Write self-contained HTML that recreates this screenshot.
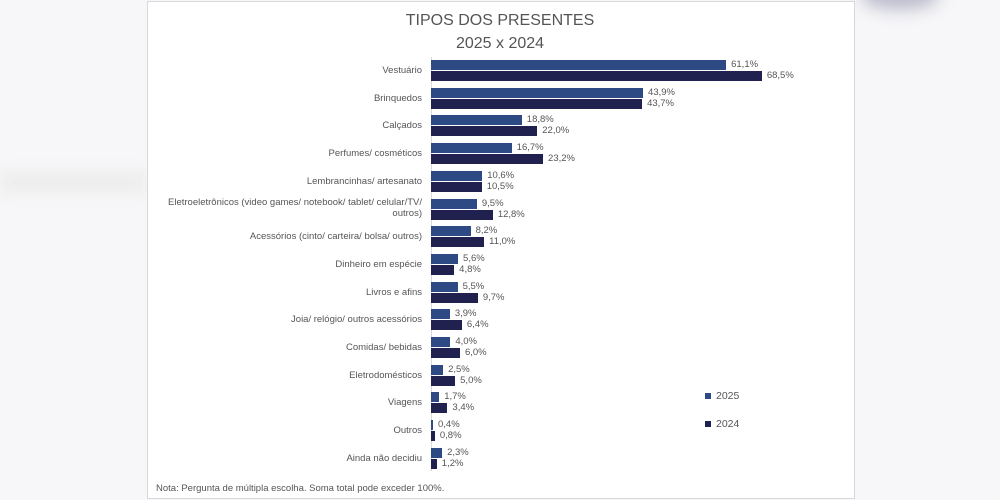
<!DOCTYPE html>
<html><head><meta charset="utf-8"><style>
body{margin:0;width:1000px;height:500px;background:#f7f7f9;position:relative;overflow:hidden;font-family:"Liberation Sans",sans-serif;}
#p{position:absolute;left:147px;top:1px;width:706px;height:496px;background:#fff;border:1px solid #d8d8dc;}
.t{position:absolute;width:1000px;left:0;text-align:center;color:#555;font-size:16px;}
.b{position:absolute;height:10px;}
.c{background:#2e4a85;}.d{background:#20214f;}
.v{position:absolute;font-size:9.5px;color:#555;line-height:10px;}
.l{position:absolute;right:578px;font-size:9.5px;color:#555;text-align:right;line-height:11px;}
</style></head><body>
<div style="position:absolute;left:0;top:170px;width:147px;height:25px;background:#eee;filter:blur(6px)"></div>
<div style="position:absolute;left:860px;top:-20px;width:80px;height:30px;background:#bcbccc;border-radius:50%;filter:blur(8px)"></div>
<div id="p"></div>
<div class="t" style="top:12px">TIPOS DOS PRESENTES</div>
<div class="t" style="top:35px">2025 x 2024</div>
<div style="position:absolute;left:431px;top:57px;width:1px;height:414px;background:#d9d9d9"></div>
<div id="bars"></div>
<div class="b c" style="left:705px;top:393px;width:6px;height:6px"></div><div class="v" style="left:716px;top:391px;font-size:10.5px">2025</div>
<div class="b d" style="left:705px;top:421px;width:6px;height:6px"></div><div class="v" style="left:716px;top:419px;font-size:10.5px">2024</div>
<div class="v" style="left:156px;top:484px">Nota: Pergunta de múltipla escolha. Soma total pode exceder 100%.</div>
<script>
var d=[["Vestuário",61.1,68.5],["Brinquedos",43.9,43.7],["Calçados",18.8,22.0],["Perfumes/ cosméticos",16.7,23.2],["Lembrancinhas/ artesanato",10.6,10.5],["Eletroeletrônicos (video games/ notebook/ tablet/ celular/TV/<br>outros)",9.5,12.8],["Acessórios (cinto/ carteira/ bolsa/ outros)",8.2,11.0],["Dinheiro em espécie",5.6,4.8],["Livros e afins",5.5,9.7],["Joia/ relógio/ outros acessórios",3.9,6.4],["Comidas/ bebidas",4.0,6.0],["Eletrodomésticos",2.5,5.0],["Viagens",1.7,3.4],["Outros",0.4,0.8],["Ainda não decidiu",2.3,1.2]];
var h="";
d.forEach(function(r,i){var y=60+i*27.7;
[r[1],r[2]].forEach(function(v,j){var w=Math.max(2,v*4.83);var yy=y+j*11;
h+='<div class="b '+(j?'d':'c')+'" style="left:431px;top:'+yy+'px;width:'+w+'px"></div>';
h+='<div class="v" style="left:'+(431+w+5)+'px;top:'+yy+'px">'+v.toFixed(1).replace(".",",")+'%</div>';});
var two=r[0].indexOf("<br>")>0;
h+='<div class="l" style="top:'+(two?y-2:y+5)+'px">'+r[0]+'</div>';});
document.getElementById("bars").innerHTML=h;
</script>
</body></html>
